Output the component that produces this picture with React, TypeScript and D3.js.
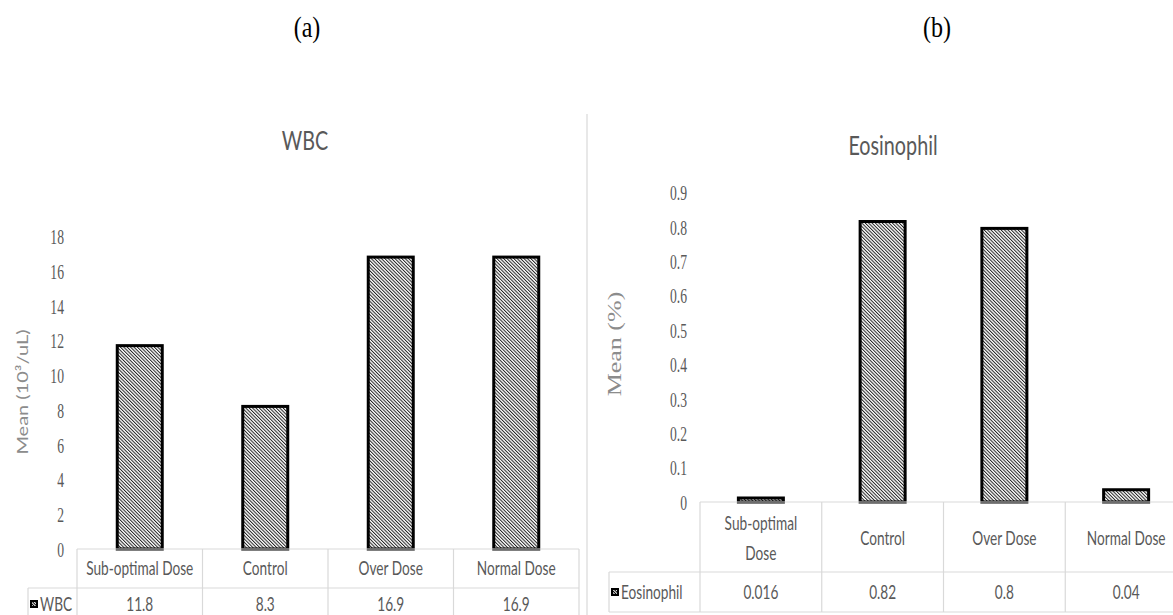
import React, { useEffect, useRef } from 'react'
import * as d3 from 'd3'

// data
const categories = ['Sub-optimal Dose', 'Control', 'Over Dose', 'Normal Dose']
const wbcValues = [11.8, 8.3, 16.9, 16.9]
const wbcLabels = ['11.8', '8.3', '16.9', '16.9']
const wbcTicks = [0, 2, 4, 6, 8, 10, 12, 14, 16, 18]
const eosValues = [0.016, 0.82, 0.8, 0.04]
const eosLabels = ['0.016', '0.82', '0.8', '0.04']
const eosTicks = [0, 0.1, 0.2, 0.3, 0.4, 0.5, 0.6, 0.7, 0.8, 0.9]
const eosHeaders = [['Sub-optimal', 'Dose'], ['Control'], ['Over Dose'], ['Normal Dose']]
const wbcHeaders = categories.map(c => [c])

const SANS = 'Lato, "Open Sans", sans-serif'
const SERIF = '"Liberation Serif", "Times New Roman", serif'
const GRID = '#d9d9d9'
const TXT = '#595959'
const SX = 0.7 // the picture is squeezed sideways

type Panel = {
  title: string, titleX: number, titleY: number,
  yTitle: string, yTitleX: number, yTitleY: number, yTitleFont: string, yTitleSize: number,
  values: number[], labels: string[], ticks: number[], headers: string[][],
  yMax: number, yBottom: number, yTop: number, tickX: number,
  xLeft: number, xRight: number, rowLine: number, tableBottom: number,
  legendX: number, series: string, fmt: (d: number) => string,
  headerY: number, lineGap: number, valueY: number,
}

const squeezed = (g: any, txt: string, x: number, y: number, opts: any) => {
  return g.append('text')
    .attr('transform', 'translate(' + x + ',' + y + ') scale(' + (opts.sx ?? SX) + ',1)')
    .attr('text-anchor', opts.anchor || 'middle')
    .attr('dy', opts.dy || '0.35em')
    .attr('font-family', opts.font || SANS)
    .attr('font-size', opts.size)
    .attr('fill', opts.fill || TXT)
    .text(txt)
}

const drawPanel = (svg: any, p: Panel) => {
  const g = svg.append('g')
  const x = d3.scaleBand<string>().domain(categories).range([p.xLeft, p.xRight]).padding(0)
  const y = d3.scaleLinear().domain([0, p.yMax]).range([p.yBottom, p.yTop])
  const barW = 48

  squeezed(g, p.title, p.titleX, p.titleY, { size: 26, dy: '0', sx: 0.76 })

  g.append('text')
    .attr('transform', 'translate(' + p.yTitleX + ',' + p.yTitleY + ') rotate(-90) scale(1,0.72)')
    .attr('text-anchor', 'middle').attr('dy', '0.35em')
    .attr('font-family', p.yTitleFont).attr('font-size', p.yTitleSize)
    .attr('fill', '#8c8c8c').text(p.yTitle)

  p.ticks.forEach(t => {
    squeezed(g, p.fmt(t), p.tickX, y(t), { size: 22, font: SERIF, anchor: 'end', sx: 0.62 })
  })

  // bars
  g.selectAll('rect.bar').data(p.values).enter().append('rect')
    .attr('class', 'bar')
    .attr('x', (d: number, i: number) => x(categories[i])! + x.bandwidth() / 2 - barW / 2 + 1.5)
    .attr('width', barW - 3)
    .attr('y', (d: number) => y(d) + 1.5)
    .attr('height', (d: number) => Math.max(0, y(0) - y(d) - 1.5))
    .attr('fill', 'url(#hatch)')
    .attr('stroke', '#000').attr('stroke-width', 3)

  // data table
  const lines = g.append('g').attr('stroke', GRID).attr('stroke-width', 1.2).attr('fill', 'none')
  const yb = y(0)
  lines.append('line').attr('x1', p.xLeft).attr('x2', p.xRight).attr('y1', yb).attr('y2', yb)
  lines.append('line').attr('x1', p.legendX).attr('x2', p.xRight).attr('y1', p.rowLine).attr('y2', p.rowLine)
  lines.append('line').attr('x1', p.legendX).attr('x2', p.xRight).attr('y1', p.tableBottom).attr('y2', p.tableBottom)
  lines.append('line').attr('x1', p.legendX).attr('x2', p.legendX).attr('y1', p.rowLine).attr('y2', p.tableBottom)
  categories.forEach((c, i) => {
    const x0 = x(c)!
    lines.append('line').attr('x1', x0).attr('x2', x0).attr('y1', yb).attr('y2', p.tableBottom)
    if (i === categories.length - 1) {
      lines.append('line').attr('x1', x0 + x.bandwidth()).attr('x2', x0 + x.bandwidth()).attr('y1', yb).attr('y2', p.tableBottom)
    }
  })

  p.headers.forEach((h, i) => {
    const cx = x(categories[i])! + x.bandwidth() / 2
    const y0 = p.headerY - (h.length - 1) * p.lineGap / 2
    h.forEach((ln, j) => squeezed(g, ln, cx, y0 + j * p.lineGap, { size: 19.5 }))
  })
  p.labels.forEach((l, i) => {
    squeezed(g, l, x(categories[i])! + x.bandwidth() / 2, p.valueY, { size: 19.5 })
  })

  // legend key
  const ky = p.valueY - 4
  g.append('rect').attr('x', p.legendX + 2).attr('y', ky).attr('width', 8).attr('height', 8).attr('fill', '#000')
  g.append('rect').attr('x', p.legendX + 4).attr('y', ky + 2).attr('width', 4).attr('height', 4).attr('fill', 'url(#hatchW)')
  squeezed(g, p.series, p.legendX + 12, p.valueY, { size: 19.5, anchor: 'start' })
}

export default function App() {
  const ref = useRef<SVGSVGElement>(null)
  useEffect(() => {
    const svg = d3.select(ref.current)
    svg.selectAll('*').remove()
    const defs = svg.append('defs')
    const pat = defs.append('pattern').attr('id', 'hatch').attr('patternUnits', 'userSpaceOnUse')
      .attr('width', 2.4).attr('height', 2.4).attr('patternTransform', 'rotate(-45)')
    pat.append('rect').attr('width', 2.4).attr('height', 2.4).attr('fill', '#fff')
    pat.append('line').attr('x1', 0.5).attr('x2', 0.5).attr('y1', 0).attr('y2', 2.4)
      .attr('stroke', '#222').attr('stroke-width', 1)
    const pw = defs.append('pattern').attr('id', 'hatchW').attr('patternUnits', 'userSpaceOnUse')
      .attr('width', 2).attr('height', 2).attr('patternTransform', 'rotate(-45)')
    pw.append('rect').attr('width', 2).attr('height', 2).attr('fill', '#000')
    pw.append('line').attr('x1', 0.5).attr('x2', 0.5).attr('y1', 0).attr('y2', 2)
      .attr('stroke', '#fff').attr('stroke-width', 1)

    svg.append('rect').attr('width', 1173).attr('height', 615).attr('fill', '#fff')

    // panel captions
    squeezed(svg, '(a)', 307, 37, { size: 30, font: SERIF, fill: '#000', dy: '0', sx: 0.8 })
    squeezed(svg, '(b)', 937, 37, { size: 30, font: SERIF, fill: '#000', dy: '0', sx: 0.8 })

    // divider between the two charts
    svg.append('line').attr('x1', 587).attr('x2', 587).attr('y1', 114).attr('y2', 615)
      .attr('stroke', GRID).attr('stroke-width', 1.2)

    drawPanel(svg, {
      title: 'WBC', titleX: 305, titleY: 150,
      yTitle: 'Mean (10³/uL)', yTitleX: 23, yTitleY: 392, yTitleFont: SANS, yTitleSize: 20,
      values: wbcValues, labels: wbcLabels, ticks: wbcTicks, headers: wbcHeaders,
      yMax: 18, yBottom: 549, yTop: 236.5, tickX: 64,
      xLeft: 77, xRight: 579, rowLine: 588, tableBottom: 640,
      legendX: 28, series: 'WBC', fmt: d => String(d),
      headerY: 568, lineGap: 30, valueY: 604,
    })
    drawPanel(svg, {
      title: 'Eosinophil', titleX: 893, titleY: 155,
      yTitle: 'Mean (%)', yTitleX: 614, yTitleY: 344, yTitleFont: SERIF, yTitleSize: 26,
      values: eosValues, labels: eosLabels, ticks: eosTicks, headers: eosHeaders,
      yMax: 0.9, yBottom: 502, yTop: 192.5, tickX: 687,
      xLeft: 700, xRight: 1187, rowLine: 572, tableBottom: 612,
      legendX: 609, series: 'Eosinophil', fmt: d => (d === 0 ? '0' : d3.format('.1f')(d)),
      headerY: 538, lineGap: 30, valueY: 592,
    })
  }, [])
  return (
    <svg ref={ref} width={1173} height={615} style={{ position: 'absolute', left: 0, top: 0 }} />
  )
}
